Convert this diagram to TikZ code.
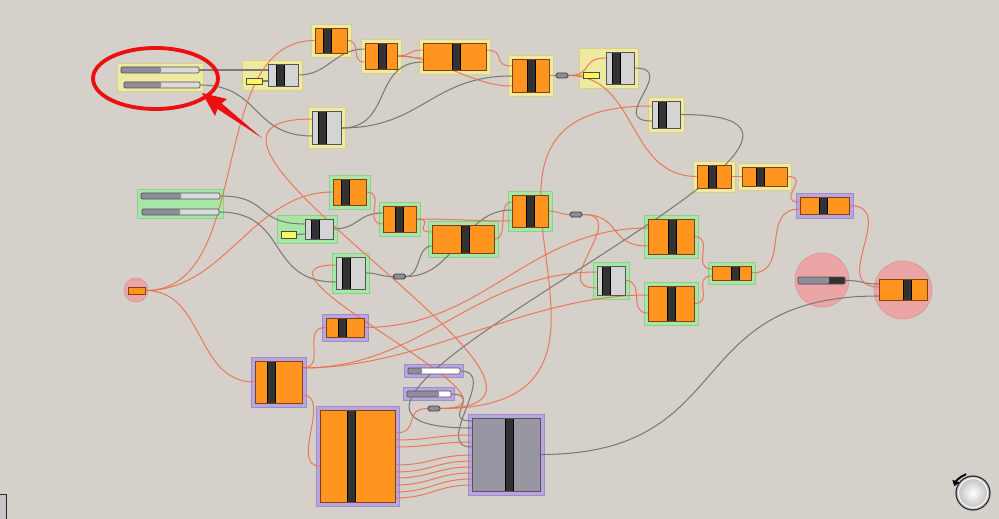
\documentclass[tikz,border=0pt]{standalone}
\usepackage{xcolor}
\definecolor{canvas}{RGB}{213,209,202}
\definecolor{ofill}{RGB}{255,148,30}
\definecolor{oline}{RGB}{130,65,20}
\definecolor{gfill}{RGB}{212,212,212}
\definecolor{gline}{RGB}{85,85,85}
\definecolor{bigfill}{RGB}{152,150,162}
\definecolor{grip}{RGB}{50,50,50}
\definecolor{sdark}{RGB}{143,141,155}
\definecolor{slight}{RGB}{218,218,218}
\definecolor{sline}{RGB}{80,80,85}
\definecolor{panelyel}{RGB}{255,248,90}
\definecolor{relaygrey}{RGB}{140,140,156}
\definecolor{ygrpfill}{RGB}{238,234,162}
\definecolor{ygrpline}{RGB}{214,209,135}
\definecolor{ggrpfill}{RGB}{168,230,168}
\definecolor{ggrpline}{RGB}{140,206,140}
\definecolor{pgrpfill}{RGB}{186,166,222}
\definecolor{pgrpline}{RGB}{160,140,200}
\definecolor{rgrpfill}{RGB}{235,165,165}
\definecolor{rgrpline}{RGB}{214,148,148}
\definecolor{wireo}{RGB}{236,110,76}
\definecolor{wireg}{RGB}{122,122,118}
\definecolor{annot}{RGB}{236,16,16}
\usepackage{tikz}
\usetikzlibrary{fit,calc,arrows.meta}
\pgfdeclarelayer{bglayer}
\pgfdeclarelayer{grplayer}
\pgfdeclarelayer{wirelayer}
\pgfsetlayers{bglayer,grplayer,wirelayer,main}

\begin{document}
\begin{tikzpicture}[
  x=0.3mm, y=-0.3mm,
  sz/.style 2 args={minimum width=#1*0.3mm, minimum height=#2*0.3mm},
  ocomp/.style={rectangle, draw=oline, fill=ofill, line width=0.8pt, inner sep=0pt},
  gcomp/.style={rectangle, draw=gline, fill=gfill, line width=0.8pt, inner sep=0pt},
  gripbar/.style={path picture={\draw[fill=grip, draw=black, line width=0.6pt] ([xshift={(#1-4)*0.3mm}]path picture bounding box.north) rectangle ([xshift={(#1+4)*0.3mm}]path picture bounding box.south);}},
  slider/.style={rectangle, draw=sline, fill=slight, line width=0.6pt, rounded corners=1pt, inner sep=0pt, path picture={\fill[sdark] (path picture bounding box.south west) rectangle ([xshift=#1*0.3mm]path picture bounding box.north west);}},
  panel/.style={rectangle, draw=black!70, fill=panelyel, line width=0.6pt, inner sep=0pt, sz={16}{6}},
  relay/.style={rectangle, draw=black!75, fill=relaygrey, rounded corners=1.5pt, line width=0.7pt, inner sep=0pt, sz={12}{5}},
  ygrp/.style={rectangle, fill=ygrpfill, draw=ygrpline, line width=0.5pt, inner sep=1mm},
  ggrp/.style={rectangle, fill=ggrpfill, draw=ggrpline, line width=0.5pt, inner sep=1mm},
  pgrp/.style={rectangle, fill=pgrpfill, draw=pgrpline, line width=0.5pt, inner sep=1mm},
  rgrp/.style={circle, fill=rgrpfill, draw=rgrpline, line width=0.5pt, inner sep=0pt},
  wire/.style={to path={.. controls +(#1,0) and +(-#1,0) .. (\tikztotarget)}},
  wire/.default=30,
  ow/.style={draw=wireo, line width=0.85pt, opacity=0.9},
  gw/.style={draw=wireg, line width=0.9pt}
]
\useasboundingbox (0,0) rectangle (999,519);
\begin{pgfonlayer}{bglayer}
  \fill[canvas] (0,0) rectangle (999,519);
\end{pgfonlayer}

% sliders, panels, relays
\node[slider=40, sz={78}{6}] (ys1) at (160,70) {};
\node[slider=37, sz={76}{6}] (ys2) at (162,85) {};
\node[slider=40, sz={79}{6}] (gs1) at (180.5,196) {};
\node[slider=38, sz={77}{6}] (gs2) at (180.5,212) {};
\node[slider=14, fill=white, sz={52}{6}] (ps1) at (434,371) {};
\node[slider=32, fill=white, sz={44}{6}] (ps2) at (429,394) {};
\node[slider=31, fill=grip, sz={47}{7}] (rs) at (821.5,280.5) {};
\node[panel] (yp2) at (254,81) {};
\node[panel] (yp3) at (591,75) {};
\node[panel, sz={15}{7}] (gp) at (288.5,234.5) {};
\node[relay] (r1) at (562,75.5) {};
\node[relay] (r2) at (399.5,276.5) {};
\node[relay] (r3) at (576,214.5) {};
\node[relay] (r4) at (434,408.5) {};

% orange components
\node[ocomp, sz={32}{25}, gripbar=-3.5] (o1) at (331,40.5) {};
\node[ocomp, sz={32}{26}, gripbar=1] (o2) at (381,56) {};
\node[ocomp, sz={63}{27}, gripbar=1.5] (o3) at (454.5,56.5) {};
\node[ocomp, sz={37}{33}, gripbar=0.5] (o4) at (530.5,75.5) {};
\node[ocomp, sz={34}{23}, gripbar=-1.5] (o5) at (714,176.5) {};
\node[ocomp, sz={45}{19}, gripbar=-4] (o6) at (764.5,176.5) {};
\node[ocomp, sz={33}{26}, gripbar=-4] (o7) at (349.5,192) {};
\node[ocomp, sz={33}{26}, gripbar=-0.5] (o8) at (399.5,219) {};
\node[ocomp, sz={62}{28}, gripbar=2] (o9) at (463,239) {};
\node[ocomp, sz={36}{32}, gripbar=0.5] (o10) at (530,211) {};
\node[ocomp, sz={46}{35}, gripbar=1] (o11) at (671,236.5) {};
\node[ocomp, sz={46}{35}, gripbar=0.5] (o12) at (671,303.5) {};
\node[ocomp, sz={39}{14}, gripbar=3.5] (o13) at (731.5,273) {};
\node[ocomp, sz={49}{17}, gripbar=-1] (o14) at (824.5,205.5) {};
\node[ocomp, sz={38}{19}, gripbar=-2.5] (o15) at (345,327.5) {};
\node[ocomp, sz={47}{42}, gripbar=-7.5] (o16) at (278.5,382) {};
\node[ocomp, sz={75}{92}, gripbar=-6.5] (o17) at (357.5,456) {};
\node[ocomp, sz={48}{21}, gripbar=4] (o18) at (903,289.5) {};
\node[ocomp, sz={17}{7}] (o19) at (136.5,290.5) {};

% grey components
\node[gcomp, sz={30}{22}, gripbar=-3] (y2c) at (283,75) {};
\node[gcomp, sz={29}{33}, gripbar=-5] (g2) at (327,128) {};
\node[gcomp, sz={28}{32}, gripbar=-4] (y3c) at (620,68) {};
\node[gcomp, sz={28}{27}, gripbar=-4] (g1) at (666,114.5) {};
\node[gcomp, sz={28}{20}, gripbar=-4] (gc) at (319,229) {};
\node[gcomp, sz={29}{32}, gripbar=-4] (g3) at (350.5,273) {};
\node[gcomp, sz={28}{29}, gripbar=-4.5] (g4) at (611,280.5) {};
\node[gcomp, fill=bigfill, sz={68}{73}, gripbar=3.5] (g5) at (506,454.5) {};

% groups
\begin{pgfonlayer}{grplayer}
  \node[ygrp, fit=(ys1)(ys2)] (ygsl) {};
  \node[ygrp, fit=(yp2)(y2c)] (yg2) {};
  \node[ygrp, fit=(yp3)(y3c)] (yg3) {};
  \foreach \n in {o1,o2,o3,o4,o5,o6,g1,g2}
    \node[ygrp, fit=(\n)] (yg-\n) {};
  \node[ggrp, fit=(gs1)(gs2)] (ggsl) {};
  \node[ggrp, fit=(gp)(gc)] (gg2) {};
  \foreach \n in {o7,o8,o9,o10,o11,o12,o13,g3,g4}
    \node[ggrp, fit=(\n)] (gg-\n) {};
  \foreach \n in {o14,o15,o16,o17,g5,ps1,ps2}
    \node[pgrp, fit=(\n)] (pg-\n) {};
  \node[rgrp, minimum size=24*0.3mm] (rc1) at (136,290) {};
  \node[rgrp, minimum size=54*0.3mm] (rc2) at (822,280) {};
  \node[rgrp, minimum size=58*0.3mm] (rc3) at (903,290) {};
\end{pgfonlayer}

% wires
\begin{pgfonlayer}{wirelayer}
  \draw[gw] (ys1.east) to[wire] (y2c.west |- 0,70);
  \draw[gw] (yp2.east) to[wire=8] (y2c.west |- 0,81);
  \draw[gw] (ys2.east) to[wire=60] (g2.west |- 0,136);
  \draw[gw] (y2c.east) to[wire=30] (o2.west |- 0,49);
  \draw[gw] (g2.east) to[wire=50] (o3.west |- 0,62);
  \draw[gw] (g2.east) to[wire=80] (o4.west |- 0,76);
  \draw[gw] (y3c.east) to[wire=45] (g1.west |- 0,121);
  \draw[gw] (g1.east) to[wire=280] (g5.west |- 0,428);
  \draw[gw] (gs1.east) to[wire=50] (gc.west |- 0,224);
  \draw[gw] (gp.east) to[wire=5] (gc.west |- 0,234);
  \draw[gw] (gs2.east) to[wire=70] (g3.west |- 0,282);
  \draw[gw] (gc.east) to[wire=25] (o8.west |- 0,213);
  \draw[gw] (g3.east) to[wire=15] (r2.west);
  \draw[gw] (r2.east) to[wire=15] (o9.west |- 0,246);
  \draw[gw] (r2.east) to[wire=50] (o10.west |- 0,210);
  \draw[gw] (ps1.east) to[wire=40] (g5.west |- 0,447);
  \draw[gw] (ps2.east) to[wire=30] (g5.west |- 0,421);
  \draw[gw] (g5.east) to[wire=200] (o18.west |- 0,296);
  \draw[gw] (rs.east) to[wire=20] (o18.west |- 0,284);

  \draw[ow] (o19.east) to[wire=110] (o1.west);
  \draw[ow] (o19.east) to[wire=80] (o7.west);
  \draw[ow] (o19.east) to[wire=60] (o16.west);
  \draw[ow] (o1.east) to[wire=15] (o2.west |- 0,62);
  \draw[ow] (o2.east) to[wire=15] (o3.west |- 0,50);
  \draw[ow] (o2.east) to[wire=15] (o3.west |- 0,58);
  \draw[ow] (o2.east) to[wire=40] (o4.west |- 0,86);
  \draw[ow] (o3.east |- 0,50) to[wire=20] (o4.west |- 0,66);
  \draw[ow] (o4.east) to[wire=5] (r1.west);
  \draw[ow] (r1.east) to[wire=8] (yp3.west);
  \draw[ow] (r1.east) to[wire=25] (y3c.west |- 0,58);
  \draw[ow] (r1.east) to[wire=70] (o5.west);
  \draw[ow] (o5.east) to[wire=5] (o6.west);
  \draw[ow] (o6.east) to[wire=25] (o14.west |- 0,202);
  \draw[ow] (o13.east) to[wire=40] (o14.west |- 0,209);
  \draw[ow] (o14.east) to[wire=50] (o18.west |- 0,287);
  \draw[ow] (o7.east) to[wire=20] (o8.west |- 0,224);
  \draw[ow] (o8.east) to[wire=20] (o9.west |- 0,232);
  \draw[ow] (o8.east) to[wire=40] (o10.west |- 0,221);
  \draw[ow] (o9.east) to[wire=15] (o10.west |- 0,202);
  \draw[ow] (o10.east) to[wire=10] (r3.west);
  \draw[ow] (r3.east) to[wire=40] (o11.west |- 0,246);
  \draw[ow] (r3.east) to[wire=50] (g4.west |- 0,288);
  \draw[ow] (g4.east) to[wire=20] (o12.west |- 0,313);
  \draw[ow] (o11.east) to[wire=20] (o13.west |- 0,269);
  \draw[ow] (o12.east) to[wire=20] (o13.west |- 0,276);
  \draw[ow] (r4.east) to[wire=250] (g1.west |- 0,106);
  \draw[ow] (r4.east) to[wire=200] (g2.west |- 0,119);
  \draw[ow] (r4.east) to[wire=110] (g3.west |- 0,265);
  \draw[ow] (o15.east) to[wire=120] (o11.west |- 0,228);
  \draw[ow] (o16.east |- 0,368) to[wire=120] (g4.west |- 0,272);
  \draw[ow] (o16.east |- 0,368) to[wire=120] (o12.west |- 0,295);
  \draw[ow] (o16.east |- 0,368) to[wire=25] (o15.west);
  \draw[ow] (o16.east |- 0,395) to[wire=30] (o17.west |- 0,466);
  \draw[ow] (o17.east |- 0,433) to[wire=25] (r4.west);
  \foreach \a/\b in {440/435,447/442,465/455,472/461,478/467,485/473,492/479,498/485}
    \draw[ow] (o17.east |- 0,\a) to[wire=35] (g5.west |- 0,\b);
\end{pgfonlayer}

% navigation widget and corner tab
\draw[fill=gray!45, draw=gray!30!black, line width=0.6pt] (-2,494) rectangle (6,521);
\shade[inner color=white, outer color=gray!55] (973,493) circle[radius=17];
\draw[gray!35!black, line width=1pt] (973,493) circle[radius=17];
\draw[white, line width=0.8pt] (973,493) circle[radius=14.5];
\draw[black, line width=1.6pt, -{Triangle[length=1.6mm, width=2.2mm]}] (973,493) ++(-110:20) arc[start angle=-110, end angle=-160, radius=20];

% annotation
\draw[annot, line width=1.15mm] (155.5,78.5) ellipse[x radius=62.5, y radius=30.5];
\fill[annot] (202,93) -- (227,99) -- (221.7,103.4) -- (262,138) -- (217.5,109) -- (215,116) -- cycle;
\end{tikzpicture}
\end{document}
